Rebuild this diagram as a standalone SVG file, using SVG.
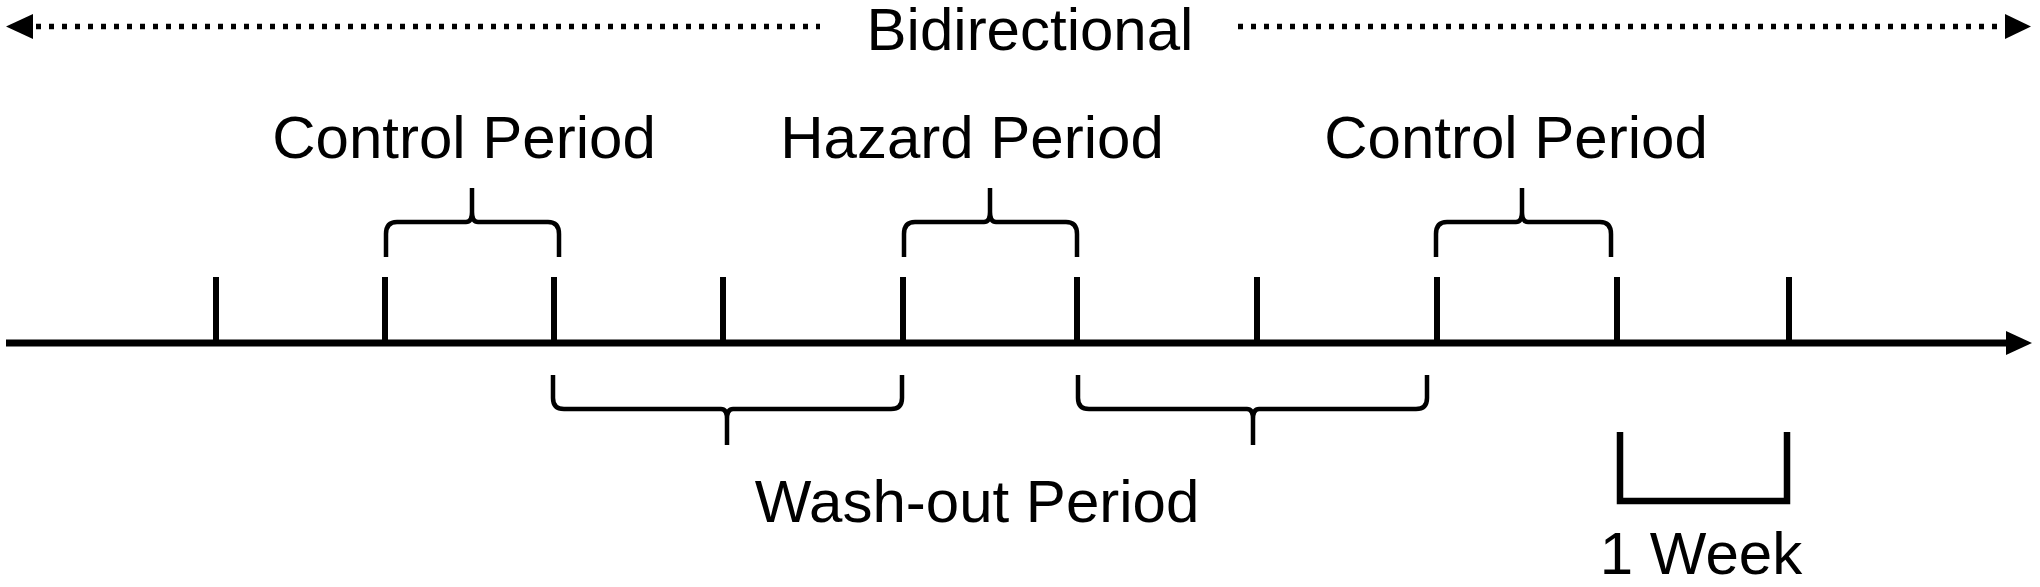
<svg xmlns="http://www.w3.org/2000/svg" width="2040" height="587" viewBox="0 0 2040 587">
<style>
.lbl{font-family:"Liberation Sans",Arial,sans-serif;font-size:60px;fill:#000;text-anchor:middle}
.dot{stroke:#000;stroke-width:5.5;stroke-dasharray:5 8;fill:none}
.axis{stroke:#000;stroke-width:7;fill:none}
.tick{stroke:#000;stroke-width:6;fill:none}
.brace{stroke:#000;stroke-width:4.5;fill:none;stroke-linecap:butt;stroke-linejoin:round}
.head{fill:#000}
</style>
<rect width="2040" height="587" fill="#fff"/>
<g id="connectors">
  <g id="bidirectional-arrow">
    <line class="dot" x1="36" y1="26.5" x2="820" y2="26.5"/>
    <polygon class="head" points="6,26.5 33,14 33,39"/>
    <line class="dot" x1="1238" y1="26.5" x2="2004" y2="26.5"/>
    <polygon class="head" points="2031,26.5 2005,14 2005,39"/>
  </g>
  <g id="timeline">
    <line class="axis" x1="6" y1="343" x2="2008" y2="343"/>
    <polygon class="head" points="2032,343 2006,331 2006,355"/>
    <line class="tick" x1="216" y1="277" x2="216" y2="343"/>
    <line class="tick" x1="385" y1="277" x2="385" y2="343"/>
    <line class="tick" x1="554" y1="277" x2="554" y2="343"/>
    <line class="tick" x1="723" y1="277" x2="723" y2="343"/>
    <line class="tick" x1="903" y1="277" x2="903" y2="343"/>
    <line class="tick" x1="1077" y1="277" x2="1077" y2="343"/>
    <line class="tick" x1="1257" y1="277" x2="1257" y2="343"/>
    <line class="tick" x1="1437" y1="277" x2="1437" y2="343"/>
    <line class="tick" x1="1617" y1="277" x2="1617" y2="343"/>
    <line class="tick" x1="1789" y1="277" x2="1789" y2="343"/>
  </g>
</g>
<g id="control-period-1">
  <path class="brace" d="M386 257 L386 234 Q386 222 397 222 L466 222 Q472 222 472 212 L472 188 M472 212 Q472 222 478 222 L548 222 Q559 222 559 234 L559 257"/>
  <text class="lbl" x="464" y="158">Control Period</text>
</g>
<g id="hazard-period">
  <path class="brace" d="M904 257 L904 234 Q904 222 915 222 L984 222 Q990 222 990 212 L990 188 M990 212 Q990 222 996 222 L1066 222 Q1077 222 1077 234 L1077 257"/>
  <text class="lbl" x="972" y="158">Hazard Period</text>
</g>
<g id="control-period-2">
  <path class="brace" d="M1436 257 L1436 234 Q1436 222 1447 222 L1516 222 Q1522 222 1522 212 L1522 188 M1522 212 Q1522 222 1528 222 L1600 222 Q1611 222 1611 234 L1611 257"/>
  <text class="lbl" x="1516" y="158">Control Period</text>
</g>
<g id="wash-out-period">
  <path class="brace" d="M553 375 L553 398 Q553 409 564 409 L721 409 Q727 409 727 419 L727 445 M727 419 Q727 409 733 409 L891 409 Q902 409 902 398 L902 375"/>
  <path class="brace" d="M1078 375 L1078 398 Q1078 409 1089 409 L1247 409 Q1253 409 1253 419 L1253 445 M1253 419 Q1253 409 1259 409 L1416 409 Q1427 409 1427 398 L1427 375"/>
  <text class="lbl" x="977" y="522">Wash-out Period</text>
</g>
<g id="one-week">
  <path d="M1620 432 L1620 501 L1787 501 L1787 432" stroke="#000" stroke-width="6.5" fill="none"/>
  <text class="lbl" x="1701" y="574">1 Week</text>
</g>
<g id="bidirectional-label">
  <text class="lbl" x="1030" y="50">Bidirectional</text>
</g>
</svg>
